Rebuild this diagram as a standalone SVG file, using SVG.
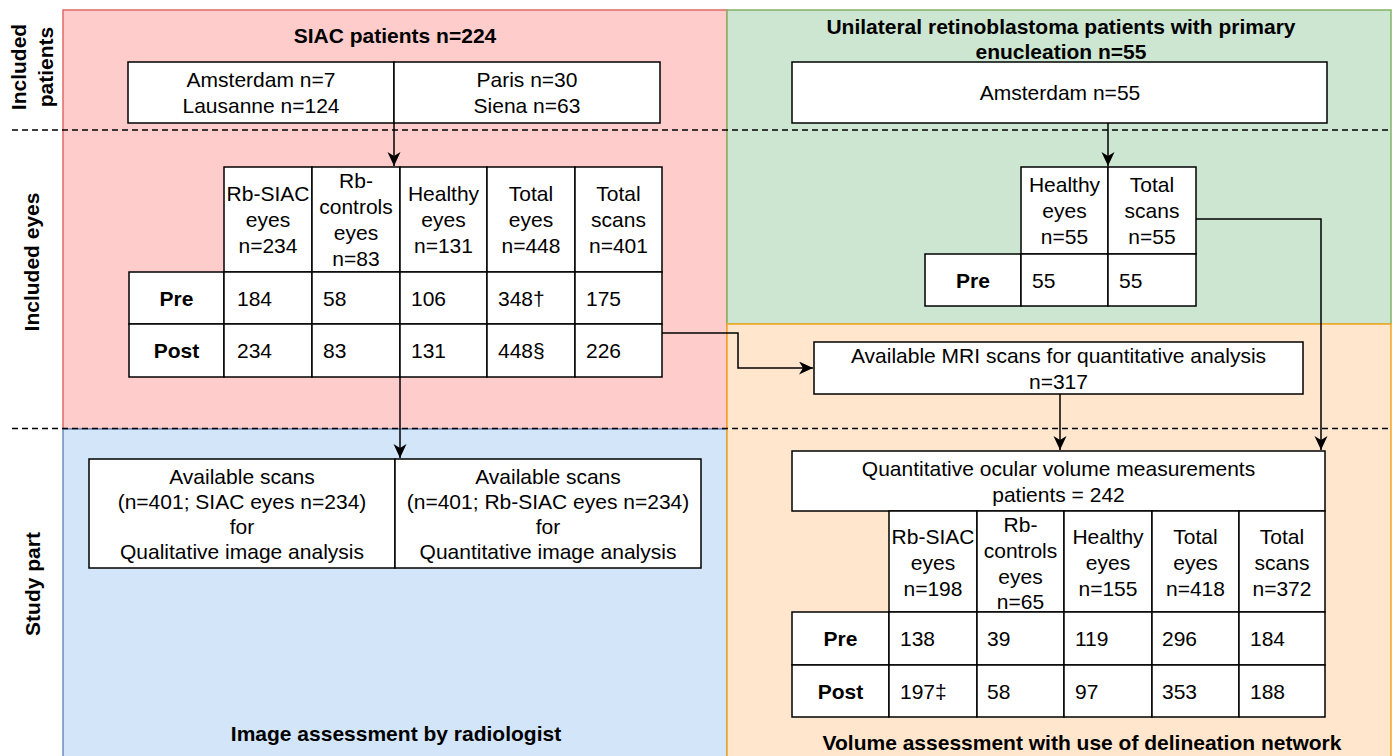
<svg xmlns="http://www.w3.org/2000/svg" width="1395" height="756" viewBox="0 0 1395 756">
<style>
.t{font-family:"Liberation Sans",Arial,Helvetica,sans-serif;font-size:21px;fill:#000;dominant-baseline:central}
.c{text-anchor:middle}
.b{font-weight:bold}
.box{fill:#fff;stroke:#000;stroke-width:1.5}
.edge{fill:none;stroke:#000;stroke-width:1.5;marker-end:url(#arr)}
.dash{stroke:#000;stroke-width:1.5;stroke-dasharray:6 4;fill:none}
</style>
<defs>
<marker id="arr" markerUnits="userSpaceOnUse" markerWidth="15" markerHeight="14" refX="14" refY="6.5" orient="auto">
<path d="M0,0 L14,6.5 L0,13 L4,6.5 Z" fill="#000"/>
</marker>
</defs>
<rect width="1395" height="756" fill="#fff"/>
<g id="panels">
<rect x="63" y="10" width="664" height="419" fill="#FFCCCC" stroke="#E06A66" stroke-width="1.5"/>
<rect x="63" y="429" width="664" height="330" fill="#D2E5F9" stroke="#6C8EBF" stroke-width="1.5"/>
<rect x="727" y="10" width="664" height="314" fill="#CDE6D1" stroke="#82B366" stroke-width="1.5"/>
<rect x="727" y="324" width="664" height="435" fill="#FFE6CC" stroke="#F5A623" stroke-width="1.5"/>
</g>
<g id="lanes">
<line class="dash" x1="12" y1="130" x2="1392" y2="130"/>
<line class="dash" x1="12" y1="428.5" x2="1392" y2="428.5"/>
<text class="t b c" transform="translate(31.5,67) rotate(-90)"><tspan x="0" y="-13.5">Included</tspan><tspan x="0" y="13.5">patients</tspan></text>
<text class="t b c" transform="translate(31,262) rotate(-90)" x="0" y="0">Included eyes</text>
<text class="t b c" transform="translate(32,584) rotate(-90)" x="0" y="0">Study part</text>
<text class="t b c" x="395" y="35">SIAC patients n=224</text>
<text class="t b c" x="1061" y="26">Unilateral retinoblastoma patients with primary</text>
<text class="t b c" x="1061" y="51">enucleation n=55</text>
<text class="t b c" x="396" y="733">Image assessment by radiologist</text>
<text class="t b c" x="1082" y="742">Volume assessment with use of delineation network</text>
</g>
<g id="siac-centres">
<rect class="box" x="128" y="62" width="266" height="61"/>
<rect class="box" x="394" y="62" width="266" height="61"/>
<text class="t c" x="261" y="79.5">Amsterdam n=7</text>
<text class="t c" x="261" y="105.5">Lausanne n=124</text>
<text class="t c" x="527" y="79.5">Paris n=30</text>
<text class="t c" x="527" y="105.5">Siena n=63</text>
</g>
<g id="amsterdam-unilateral">
<rect class="box" x="792" y="62" width="535" height="61"/>
<text class="t c" x="1060" y="92.5">Amsterdam n=55</text>
</g>
<g id="siac-eyes-table">
<rect class="box" x="224" y="167" width="88" height="105"/>
<rect class="box" x="312" y="167" width="88" height="105"/>
<rect class="box" x="400" y="167" width="87" height="105"/>
<rect class="box" x="487" y="167" width="88" height="105"/>
<rect class="box" x="575" y="167" width="87" height="105"/>
<rect class="box" x="129" y="272" width="95" height="52"/>
<rect class="box" x="224" y="272" width="88" height="52"/>
<rect class="box" x="312" y="272" width="88" height="52"/>
<rect class="box" x="400" y="272" width="87" height="52"/>
<rect class="box" x="487" y="272" width="88" height="52"/>
<rect class="box" x="575" y="272" width="87" height="52"/>
<rect class="box" x="129" y="324" width="95" height="53"/>
<rect class="box" x="224" y="324" width="88" height="53"/>
<rect class="box" x="312" y="324" width="88" height="53"/>
<rect class="box" x="400" y="324" width="87" height="53"/>
<rect class="box" x="487" y="324" width="88" height="53"/>
<rect class="box" x="575" y="324" width="87" height="53"/>
<text class="t c" x="268" y="193.5">Rb-SIAC</text>
<text class="t c" x="268" y="219.5">eyes</text>
<text class="t c" x="268" y="245.5">n=234</text>
<text class="t c" x="356" y="180.5">Rb-</text>
<text class="t c" x="356" y="206.5">controls</text>
<text class="t c" x="356" y="232.5">eyes</text>
<text class="t c" x="356" y="258.5">n=83</text>
<text class="t c" x="443.5" y="193.5">Healthy</text>
<text class="t c" x="443.5" y="219.5">eyes</text>
<text class="t c" x="443.5" y="245.5">n=131</text>
<text class="t c" x="531" y="193.5">Total</text>
<text class="t c" x="531" y="219.5">eyes</text>
<text class="t c" x="531" y="245.5">n=448</text>
<text class="t c" x="618.5" y="193.5">Total</text>
<text class="t c" x="618.5" y="219.5">scans</text>
<text class="t c" x="618.5" y="245.5">n=401</text>
<text class="t b c" x="176.5" y="298">Pre</text>
<text class="t" x="237" y="298">184</text>
<text class="t" x="323" y="298">58</text>
<text class="t" x="411" y="298">106</text>
<text class="t" x="498" y="298">348†</text>
<text class="t" x="586" y="298">175</text>
<text class="t b c" x="176.5" y="350.5">Post</text>
<text class="t" x="237" y="350.5">234</text>
<text class="t" x="323" y="350.5">83</text>
<text class="t" x="411" y="350.5">131</text>
<text class="t" x="498" y="350.5">448§</text>
<text class="t" x="586" y="350.5">226</text>
</g>
<g id="healthy-eyes-table">
<rect class="box" x="1021" y="167" width="87" height="87"/>
<rect class="box" x="1108" y="167" width="88" height="87"/>
<rect class="box" x="925" y="254" width="96" height="52"/>
<rect class="box" x="1021" y="254" width="87" height="52"/>
<rect class="box" x="1108" y="254" width="88" height="52"/>
<text class="t c" x="1064.5" y="184.5">Healthy</text>
<text class="t c" x="1064.5" y="210.5">eyes</text>
<text class="t c" x="1064.5" y="236.5">n=55</text>
<text class="t c" x="1152" y="184.5">Total</text>
<text class="t c" x="1152" y="210.5">scans</text>
<text class="t c" x="1152" y="236.5">n=55</text>
<text class="t b c" x="973" y="280">Pre</text>
<text class="t" x="1032" y="280">55</text>
<text class="t" x="1119" y="280">55</text>
</g>
<g id="mri-scans">
<rect class="box" x="814" y="342" width="489" height="52"/>
<text class="t c" x="1058.5" y="355.5">Available MRI scans for quantitative analysis</text>
<text class="t c" x="1058.5" y="381">n=317</text>
</g>
<g id="image-analysis">
<rect class="box" x="89" y="459" width="306" height="109"/>
<rect class="box" x="395" y="459" width="306" height="109"/>
<text class="t c" x="242" y="476">Available scans</text>
<text class="t c" x="242" y="501">(n=401; SIAC eyes n=234)</text>
<text class="t c" x="242" y="526">for</text>
<text class="t c" x="242" y="551">Qualitative image analysis</text>
<text class="t c" x="548" y="476">Available scans</text>
<text class="t c" x="548" y="501">(n=401; Rb-SIAC eyes n=234)</text>
<text class="t c" x="548" y="526">for</text>
<text class="t c" x="548" y="551">Quantitative image analysis</text>
</g>
<g id="volume-measurements">
<rect class="box" x="792" y="451" width="533" height="60"/>
<text class="t c" x="1058.5" y="468">Quantitative ocular volume measurements</text>
<text class="t c" x="1058.5" y="494">patients = 242</text>
<rect class="box" x="889" y="511" width="88" height="101"/>
<rect class="box" x="977" y="511" width="87" height="101"/>
<rect class="box" x="1064" y="511" width="88" height="101"/>
<rect class="box" x="1152" y="511" width="87" height="101"/>
<rect class="box" x="1239" y="511" width="86" height="101"/>
<rect class="box" x="792" y="612" width="97" height="53"/>
<rect class="box" x="889" y="612" width="88" height="53"/>
<rect class="box" x="977" y="612" width="87" height="53"/>
<rect class="box" x="1064" y="612" width="88" height="53"/>
<rect class="box" x="1152" y="612" width="87" height="53"/>
<rect class="box" x="1239" y="612" width="86" height="53"/>
<rect class="box" x="792" y="665" width="97" height="52"/>
<rect class="box" x="889" y="665" width="88" height="52"/>
<rect class="box" x="977" y="665" width="87" height="52"/>
<rect class="box" x="1064" y="665" width="88" height="52"/>
<rect class="box" x="1152" y="665" width="87" height="52"/>
<rect class="box" x="1239" y="665" width="86" height="52"/>
<text class="t c" x="933" y="536">Rb-SIAC</text>
<text class="t c" x="933" y="562">eyes</text>
<text class="t c" x="933" y="588">n=198</text>
<text class="t c" x="1020.5" y="524">Rb-</text>
<text class="t c" x="1020.5" y="550">controls</text>
<text class="t c" x="1020.5" y="576">eyes</text>
<text class="t c" x="1020.5" y="601">n=65</text>
<text class="t c" x="1108" y="536">Healthy</text>
<text class="t c" x="1108" y="562">eyes</text>
<text class="t c" x="1108" y="588">n=155</text>
<text class="t c" x="1195.5" y="536">Total</text>
<text class="t c" x="1195.5" y="562">eyes</text>
<text class="t c" x="1195.5" y="588">n=418</text>
<text class="t c" x="1282" y="536">Total</text>
<text class="t c" x="1282" y="562">scans</text>
<text class="t c" x="1282" y="588">n=372</text>
<text class="t b c" x="840.5" y="638.5">Pre</text>
<text class="t" x="900" y="638.5">138</text>
<text class="t" x="987" y="638.5">39</text>
<text class="t" x="1075" y="638.5">119</text>
<text class="t" x="1162" y="638.5">296</text>
<text class="t" x="1250" y="638.5">184</text>
<text class="t b c" x="840.5" y="691">Post</text>
<text class="t" x="900" y="691">197‡</text>
<text class="t" x="987" y="691">58</text>
<text class="t" x="1075" y="691">97</text>
<text class="t" x="1162" y="691">353</text>
<text class="t" x="1250" y="691">188</text>
</g>
<g id="connectors">
<path class="edge" d="M394,123 L394,166"/>
<path class="edge" d="M1108,123 L1108,166"/>
<path class="edge" d="M400,377 L400,458"/>
<path class="edge" d="M662,333 L738,333 L738,368 L813,368"/>
<path class="edge" d="M1196,219 L1321,219 L1321,450"/>
<path class="edge" d="M1060,394 L1060,450"/>
</g>
</svg>
